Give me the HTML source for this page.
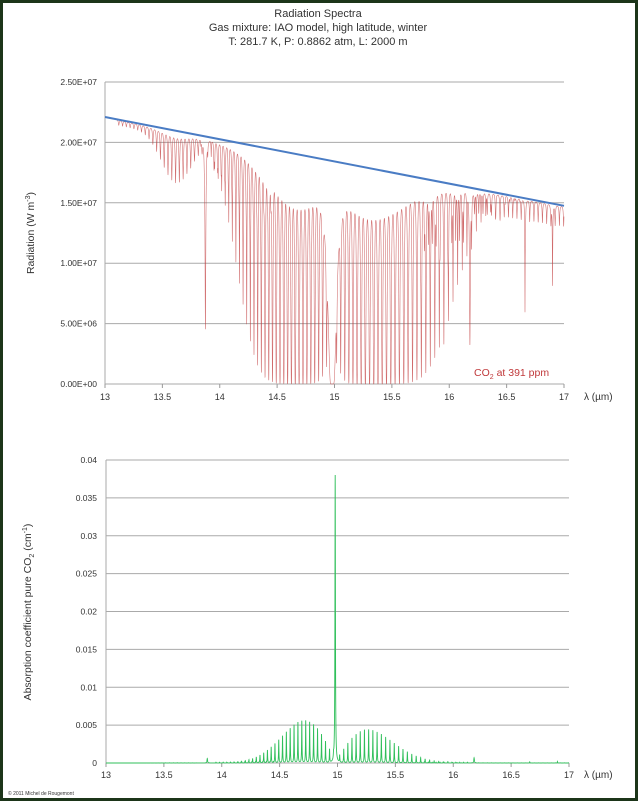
<!DOCTYPE html>
<html><head><meta charset="utf-8"><style>
html,body{margin:0;padding:0;background:#fff}
#f{position:absolute;left:0;top:0;width:632px;height:795px;border:3px solid #1c3519;background:#fff;overflow:hidden}
svg{position:absolute;left:0;top:0}
text{font-family:"Liberation Sans",sans-serif;fill:#333}
</style></head><body>
<div id="f"></div>
<svg id="s" width="638" height="801" viewBox="0 0 638 801"></svg>
<script>
var s=document.getElementById('s');
function el(t,a,txt){var e=document.createElementNS('http://www.w3.org/2000/svg',t);for(var k in a)e.setAttribute(k,a[k]);if(txt!==undefined)e.textContent=txt;s.appendChild(e);return e;}
el('text',{x:318,y:17,'text-anchor':'middle','font-size':'11'},'Radiation Spectra');
el('text',{x:318,y:31,'text-anchor':'middle','font-size':'11'},'Gas mixture: IAO model, high latitude, winter');
el('text',{x:318,y:45,'text-anchor':'middle','font-size':'11'},'T: 281.7 K, P: 0.8862 atm, L: 2000 m');
function S(J,a){return J*Math.exp(-a*J*(J+1));}
var m1=0,m2=0;for(var J=1;J<90;J++){m1=Math.max(m1,S(J,0.002));m2=Math.max(m2,S(J,0.0012));}
var L=[];
var nu0=667.4,B=0.39;
for(var J=0;J<100;J+=2){
 L.push([1e4/(nu0+2*B*(J+1)),0.0056*S(J+1,0.002)/m1,0.002,8*S(J+1,0.0015)/m2,0.0021]);
 if(J>0)L.push([1e4/(nu0-2*B*J),0.0044*S(J,0.002)/m1,0.002,8.5*S(J,0.0012)/m2,0.0021]);}
for(var x=13.12;x<13.86;x+=0.033){var e=Math.exp(-Math.pow((x-13.62)/0.17,2));L.push([x,0.00004*e,0.0016,0.2*e+0.02,0.004]);}
for(var x=13.95;x<14.45;x+=0.031){L.push([x,0.0001,0.0014,0.12,0.003]);}
for(var x=16.22;x<17.0;x+=0.037){L.push([x,0.00003,0.0018,0.12,0.003]);}
for(var x=15.75;x<16.15;x+=0.034){L.push([x,0.0001,0.0016,0.3,0.0025]);}
L.push([14.98,0.038,0.0025,40,0.006]);
L.push([13.875,0.0006,0.003,1.5,0.003]);
L.push([16.18,0.0007,0.003,1.6,0.003]);
L.push([16.66,0.0002,0.0012,0.9,0.0015]);
L.push([16.9,0.0002,0.0015,0.6,0.002]);
function kb(x){var t=0;for(var i=0;i<L.length;i++){var d=(x-L[i][0])/L[i][2];t+=L[i][1]/(1+d*d);}return t;}
function tt(x){var t=0;for(var i=0;i<L.length;i++){var d=(x-L[i][0])/L[i][4];t+=L[i][3]/(1+d*d);}return t;}
var X0=105,X1=564,Y0=384,YT=82;
function tx(v){return X0+(v-13)/4*(X1-X0);}
function ty(v){return Y0-v/2.5e7*(Y0-YT);}
var labs=['0.00E+00','5.00E+06','1.00E+07','1.50E+07','2.00E+07','2.50E+07'];
for(var i=0;i<=5;i++){var y=ty(i*5e6);el('line',{x1:X0,x2:X1,y1:y,y2:y,stroke:'#aaa','stroke-width':1});
 el('text',{x:97,y:y+3,'text-anchor':'end','font-size':'8.5'},labs[i]);}
el('line',{x1:X0,x2:X0,y1:YT,y2:Y0,stroke:'#aaa'});
for(var i=0;i<=8;i++){var v=13+i*0.5,x=tx(v);el('line',{x1:x,x2:x,y1:Y0,y2:Y0+4,stroke:'#999'});el('text',{x:x,y:Y0+16,'text-anchor':'middle','font-size':'9'},String(v));}
el('text',{x:584,y:Y0+16,'font-size':'10'},'λ (µm)');
var t=el('text',{x:0,y:0,'text-anchor':'middle','font-size':'10.5',transform:'translate(34,233) rotate(-90)'});t.innerHTML='Radiation (W m<tspan font-size="7" dy="-4">-3</tspan><tspan dy="4">)</tspan>';
var d='',N=14000;
for(var i=0;i<=N;i++){var x=13+4*i/N;var B0=2.21e7-(2.21e7-1.475e7)*(x-13)/4;var T=Math.exp(-tt(x));d+=(i?'L':'M')+tx(x).toFixed(2)+' '+ty(B0*T).toFixed(2);}
el('path',{d:d,fill:'none',stroke:'#c0393b','stroke-width':0.55,'stroke-opacity':0.75});
el('line',{x1:tx(13),y1:ty(2.21e7),x2:tx(17),y2:ty(1.475e7),stroke:'#4a7cc4','stroke-width':2});
var t2=el('text',{x:474,y:376,'font-size':'10.5'});t2.style.fill='#c0393b';t2.innerHTML='CO<tspan font-size="7" dy="3">2</tspan><tspan dy="-3"> at 391 ppm</tspan>';
var bX0=106,bX1=569,bY0=763,bYT=460;
function bx(v){return bX0+(v-13)/4*(bX1-bX0);}
function by(v){return bY0-v/0.04*(bY0-bYT);}
var bl=['0','0.005','0.01','0.015','0.02','0.025','0.03','0.035','0.04'];
for(var i=0;i<=8;i++){var y=by(i*0.005);el('line',{x1:bX0,x2:bX1,y1:y,y2:y,stroke:'#aaa'});el('text',{x:97,y:y+3,'text-anchor':'end','font-size':'8.5'},bl[i]);}
el('line',{x1:bX0,x2:bX0,y1:bYT,y2:bY0,stroke:'#aaa'});
for(var i=0;i<=8;i++){var v=13+i*0.5,x=bx(v);el('line',{x1:x,x2:x,y1:bY0,y2:bY0+4,stroke:'#999'});el('text',{x:x,y:bY0+15,'text-anchor':'middle','font-size':'9'},String(v));}
el('text',{x:584,y:bY0+15,'font-size':'10'},'λ (µm)');
var t3=el('text',{x:0,y:0,'text-anchor':'middle','font-size':'10.5',transform:'translate(31,612) rotate(-90)'});t3.innerHTML='Absorption coefficient pure CO<tspan font-size="7" dy="3">2</tspan><tspan dy="-3"> (cm</tspan><tspan font-size="7" dy="-4">-1</tspan><tspan dy="4">)</tspan>';
d='';N=8000;
for(var i=0;i<=N;i++){var x=13+4*i/N;d+=(i?'L':'M')+bx(x).toFixed(2)+' '+by(kb(x)).toFixed(2);}
el('path',{d:d,fill:'none',stroke:'#2fbf5a','stroke-width':0.9});
el('text',{x:8,y:795,'font-size':'5'},'© 2011 Michel de Rougemont');
</script>
</body></html>
